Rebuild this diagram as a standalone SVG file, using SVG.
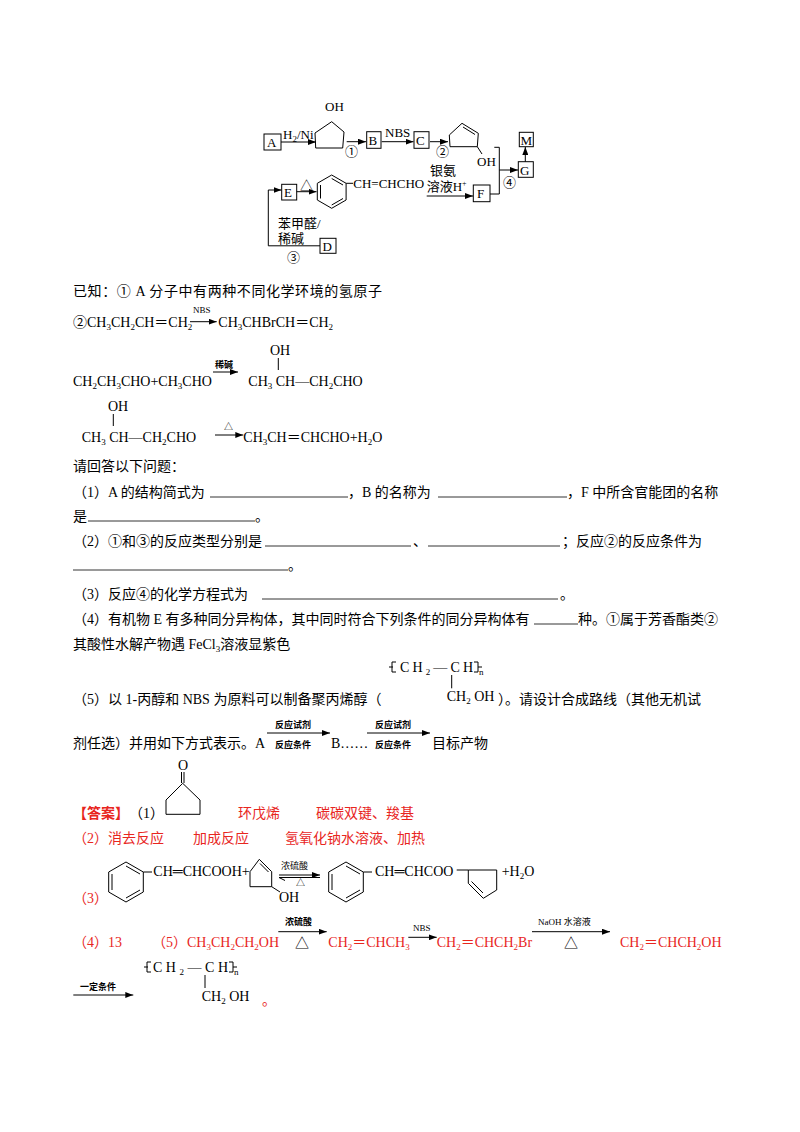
<svg xmlns="http://www.w3.org/2000/svg" width="800" height="1132" viewBox="0 0 800 1132">
<style>
text{font-family:"Liberation Serif","Noto Sans CJK SC",serif;font-size:14px;fill:#000}
.d{font-size:13px}
.sm{font-size:9px}
.s{font-size:9px;baseline-shift:-3px}
.p{font-size:8px;baseline-shift:5px}
.r{fill:#e8261e}
.b{font-weight:bold}
.ln{stroke:#000;stroke-width:1;fill:none}
.bx{stroke:#000;stroke-width:1;fill:#fff}
.ul{stroke:#000;stroke-width:0.8}
</style>
<defs>
<marker id="ah" viewBox="0 0 8 6" refX="8" refY="3" markerWidth="8" markerHeight="6" orient="auto" markerUnits="userSpaceOnUse"><path d="M0,0 L8,3 L0,6 z" fill="#000"/></marker>
</defs>
<rect width="800" height="1132" fill="#fff"/>

<!-- Top scheme -->
<g id="nodes">
<g id="A"><rect class="bx" x="264" y="134" width="17" height="16"/><text class="d" x="267" y="147">A</text></g>
<g id="cyclopentanol"><path class="ln" d="M331.7,121.7 L344,132 L342.7,148 L315.7,148 L315,133 Z"/><text class="d" x="325" y="111">OH</text><text class="d" x="345" y="156">①</text></g>
<g id="B"><rect class="bx" x="366.7" y="131.7" width="14.3" height="16.6"/><text class="d" x="368.5" y="144.5">B</text></g>
<g id="C"><rect class="bx" x="414" y="131.7" width="15" height="16.6"/><text class="d" x="416" y="144.5">C</text><text class="d" x="436" y="156">②</text></g>
<g id="cyclopentenol"><path class="ln" d="M462,123.3 L478.3,133.3 L477.3,146.7 L450,146.7 L449.3,135 Z"/><path class="ln" d="M463,127 L475,134.5"/><path class="ln" d="M477.3,146.7 L482,154"/><text class="d" x="477" y="166">OH</text></g>
<g id="M"><rect class="bx" x="519.3" y="132.3" width="14" height="14.4"/><text class="d" x="520.5" y="144.5">M</text></g>
<g id="G"><rect class="bx" x="518.3" y="161.7" width="15" height="15.6"/><text class="d" x="520" y="174.5">G</text><text class="d" x="503" y="187">④</text></g>
<g id="F"><rect class="bx" x="473.3" y="185" width="16.7" height="16.7"/><text class="d" x="477" y="198">F</text></g>
<g id="E"><rect class="bx" x="281.7" y="184.3" width="15" height="15.7"/><text class="d" x="284" y="197">E</text></g>
<g id="cinnamaldehyde"><path class="ln" d="M331.7,175 L346.1,183.3 L346.1,200 L331.7,208.3 L317.3,200 L317.3,183.3 Z"/><path class="ln" d="M331.7,178.5 L343,185 M343,198.5 L331.7,205 M320.5,185 L320.5,198.5"/><path class="ln" d="M346.1,183.3 L353,183.3"/><text class="d" x="353.3" y="188">CH=CHCHO</text></g>
<g id="D"><rect class="bx" x="320" y="238.3" width="16" height="15"/><text class="d" x="322.5" y="250.5">D</text><text class="d" x="287" y="262">③</text></g>
</g>
<g id="connectors">
<path class="ln" d="M281,142 L316,142" marker-end="url(#ah)"/><text class="d" x="283" y="139">H<tspan class="s">2</tspan>/Ni</text>
<path class="ln" d="M346.7,141.7 L366,141.7" marker-end="url(#ah)"/>
<path class="ln" d="M381.7,141.7 L413.5,141.7" marker-end="url(#ah)"/><text class="d" x="385" y="137">NBS</text>
<path class="ln" d="M430,141.7 L448,141.7" marker-end="url(#ah)"/>
<path class="ln" d="M494.3,147.3 L499.3,147.3 L499.3,194 L490,194"/>
<path class="ln" d="M499.3,170 L518,170" marker-end="url(#ah)"/>
<path class="ln" d="M525.3,161.7 L525.3,147" marker-end="url(#ah)"/>
<path class="ln" d="M426.7,196 L473,196" marker-end="url(#ah)"/>
<text class="d" x="430" y="175">银氨</text><text class="d" x="426.7" y="191">溶液H<tspan class="p">+</tspan></text>
<path class="ln" d="M296.7,191.7 L316.5,191.7" marker-end="url(#ah)"/><text class="d" x="300" y="190">△</text>
<path class="ln" d="M320,245.8 L268.3,245.8 L268.3,190 L281.5,190" marker-end="url(#ah)"/>
<text class="d" x="278" y="228">苯甲醛/</text><text class="d" x="278" y="243">稀碱</text>
</g>

<!-- Known -->
<text x="73" y="296" textLength="309" lengthAdjust="spacing">已知：① A 分子中有两种不同化学环境的氢原子</text>
<text x="73" y="327">②CH<tspan class="s">3</tspan>CH<tspan class="s">2</tspan>CH＝CH<tspan class="s">2</tspan></text>
<path class="ln" d="M190,321.7 L216.7,321.7" marker-end="url(#ah)"/><text class="sm" x="193" y="313">NBS</text>
<text x="218.3" y="327">CH<tspan class="s">3</tspan>CHBrCH＝CH<tspan class="s">2</tspan></text>

<text x="73" y="386">CH<tspan class="s">2</tspan>CH<tspan class="s">3</tspan>CHO+CH<tspan class="s">3</tspan>CHO</text>
<path class="ln" d="M213,372 L238,372" marker-end="url(#ah)"/><text class="sm b" x="215" y="368">稀碱</text>
<text x="270" y="355">OH</text><path class="ln" d="M278.3,358 L278.3,370"/>
<text x="248.3" y="386">CH<tspan class="s">3</tspan> CH—CH<tspan class="s">2</tspan>CHO</text>

<text x="108" y="411">OH</text><path class="ln" d="M113.3,414 L113.3,426"/>
<text x="81.7" y="442">CH<tspan class="s">3</tspan> CH—CH<tspan class="s">2</tspan>CHO</text>
<text class="sm" x="224" y="430">△</text><path class="ln" d="M215,435 L243.3,435" marker-end="url(#ah)"/>
<text x="243.3" y="442">CH<tspan class="s">3</tspan>CH＝CHCHO+H<tspan class="s">2</tspan>O</text>

<!-- Questions -->
<text x="73" y="471">请回答以下问题：</text>
<text x="73" y="497">（1）A 的结构简式为</text><line class="ul" x1="210" y1="497" x2="348" y2="497"/>
<text x="348" y="497">，B 的名称为</text><line class="ul" x1="438" y1="497" x2="567" y2="497"/>
<text x="567" y="497">，F 中所含官能团的名称</text>
<text x="73" y="521">是</text><line class="ul" x1="88" y1="521" x2="255" y2="521"/><text x="255" y="521">。</text>
<text x="73" y="546">（2）①和③的反应类型分别是</text><line class="ul" x1="265" y1="546" x2="411" y2="546"/>
<text x="413" y="546">、</text><line class="ul" x1="428" y1="546" x2="560" y2="546"/>
<text x="562" y="546">；反应②的反应条件为</text>
<line class="ul" x1="73" y1="570" x2="288" y2="570"/><text x="288" y="570">。</text>
<text x="73" y="599">（3）反应④的化学方程式为</text><line class="ul" x1="262" y1="599" x2="558" y2="599"/><text x="560" y="599">。</text>
<text x="73" y="624">（4）有机物 E 有多种同分异构体，其中同时符合下列条件的同分异构体有</text><line class="ul" x1="534" y1="624" x2="578" y2="624"/><text x="578" y="624">种。①属于芳香酯类②</text>
<text x="73" y="649">其酸性水解产物遇 FeCl<tspan class="s">3</tspan>溶液显紫色</text>

<path class="ln" d="M396,662 L392,662 L392,672 L396,672 M389,667 L393,667"/>
<text x="400" y="672" textLength="73" lengthAdjust="spacing">CH<tspan class="s">2</tspan>—CH</text>
<path class="ln" d="M474,662 L478,662 L478,672 L474,672 M478,667 L482,667"/><text class="sm" x="479" y="675">n</text>
<path class="ln" d="M451.7,675 L451.7,688.3"/>
<text x="446.7" y="701">CH<tspan class="s">2</tspan> OH</text>
<text x="73" y="704">（5）以 1-丙醇和 NBS 为原料可以制备聚丙烯醇（</text>
<text x="498" y="704">）。请设计合成路线（其他无机试</text>
<text x="73" y="748">剂任选）并用如下方式表示。A</text>
<path class="ln" d="M267,733 L330,733" marker-end="url(#ah)"/><text class="sm b" x="275" y="728">反应试剂</text><text class="sm b" x="275" y="748">反应条件</text>
<text x="331" y="748">B……</text>
<path class="ln" d="M367,733 L430,733" marker-end="url(#ah)"/><text class="sm b" x="375" y="728">反应试剂</text><text class="sm b" x="375" y="748">反应条件</text>
<text x="432" y="748">目标产物</text>

<!-- Answer -->
<text x="183" y="770" text-anchor="middle">O</text>
<path class="ln" d="M181.5,772 L181.5,783 M184,772 L184,783"/>
<path class="ln" d="M182.7,783.3 L200,800 L200,814.3 L166,814.3 L166,800 Z"/>
<text class="r b" x="73" y="818">【答案】</text><text x="129" y="818">（1）</text>
<text class="r" x="238" y="818">环戊烯</text><text class="r" x="316" y="818">碳碳双键、羧基</text>
<text class="r" x="73" y="843">（2）消去反应</text><text class="r" x="193" y="843">加成反应</text><text class="r" x="285" y="843">氢氧化钠水溶液、加热</text>

<text class="r" x="73" y="903">（3）</text>
<path class="ln" d="M126,862 L143.3,872 L143.3,892 L126,902 L108.7,892 L108.7,872 Z"/>
<path class="ln" d="M126,866 L140,874 M140,890 L126,898 M112,874 L112,890"/>
<path class="ln" d="M143.3,872 L152,872"/>
<text x="153.3" y="876">CH═CHCOOH+</text>
<path class="ln" d="M259.3,859.3 L271.7,871.7 L271.7,886.7 L250,886.7 L250,871.7 Z"/>
<path class="ln" d="M260,863.5 L268.5,872"/>
<path class="ln" d="M271.7,886.7 L280,892"/><text x="279" y="902">OH</text>
<text class="sm" x="281" y="869">浓硫酸</text>
<path class="ln" d="M279,875 L320,875" marker-end="url(#ah)"/>
<path class="ln" d="M320,877.5 L279,877.5 L285,880.5"/>
<text class="sm" x="296" y="886">△</text>
<path class="ln" d="M346,862 L363.3,872 L363.3,892 L346,902 L328.7,892 L328.7,872 Z"/>
<path class="ln" d="M346,866 L360,874 M360,890 L346,898 M332,874 L332,890"/>
<path class="ln" d="M363.3,872 L372,872"/>
<text x="375" y="876">CH═CHCOO</text>
<path class="ln" d="M456.7,870 L468.3,870"/>
<path class="ln" d="M468.3,870 L496.7,870 L496.7,890 L483.3,898.3 L468.3,883.3 Z"/>
<path class="ln" d="M471.5,881.5 L483,893"/>
<text x="501.7" y="876">+H<tspan class="s">2</tspan>O</text>

<text class="r" x="73" y="947">（4）13</text>
<text class="r" x="152" y="947">（5）CH<tspan class="s">3</tspan>CH<tspan class="s">2</tspan>CH<tspan class="s">2</tspan>OH</text>
<text class="sm b" x="285" y="925">浓硫酸</text>
<path class="ln" d="M278.3,931.7 L326.7,931.7" marker-end="url(#ah)"/><text x="295" y="948">△</text>
<text class="r" x="328.3" y="947">CH<tspan class="s">2</tspan>＝CHCH<tspan class="s">3</tspan></text>
<text class="sm" x="413" y="931">NBS</text>
<path class="ln" d="M408.3,937.3 L436.7,937.3" marker-end="url(#ah)"/>
<text class="r" x="436.7" y="947">CH<tspan class="s">2</tspan>＝CHCH<tspan class="s">2</tspan>Br</text>
<text class="sm" x="538" y="925">NaOH 水溶液</text>
<path class="ln" d="M532,931.7 L610,931.7" marker-end="url(#ah)"/><text x="564" y="948">△</text>
<text class="r" x="620" y="947">CH<tspan class="s">2</tspan>＝CHCH<tspan class="s">2</tspan>OH</text>

<path class="ln" d="M151,962 L147,962 L147,972 L151,972 M144,967 L148,967"/>
<text x="153" y="972" textLength="75" lengthAdjust="spacing">CH<tspan class="s">2</tspan>—CH</text>
<path class="ln" d="M229,962 L233,962 L233,972 L229,972 M233,967 L237,967"/><text class="sm" x="234" y="975">n</text>
<path class="ln" d="M205,975 L205,988"/>
<text x="201.7" y="1001">CH<tspan class="s">2</tspan> OH</text>
<text class="sm b" x="80" y="990">一定条件</text>
<path class="ln" d="M73.3,995 L133.3,995" marker-end="url(#ah)"/>
<text class="r" x="262" y="1005">。</text>
</svg>
